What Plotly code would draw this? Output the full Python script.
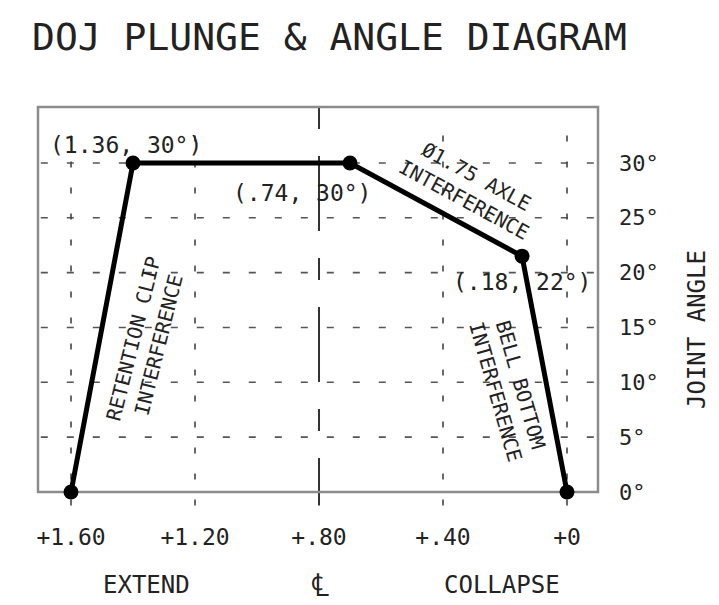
import plotly.graph_objects as go

# ---- data ----
plunge = [1.60, 1.40, 0.70, 0.145, 0.0]          # plunge (in)
joint_angle = [0, 30, 30, 21.5, 0]               # joint angle (deg)
x_tick_vals = [1.60, 1.20, 0.80, 0.40, 0.0]
x_tick_text = ["+1.60", "+1.20", "+.80", "+.40", "+0"]
y_tick_vals = [0, 5, 10, 15, 20, 25, 30]
y_tick_text = ["0°", "5°", "10°", "15°", "20°", "25°", "30°"]
grid_x = [1.60, 1.20, 0.40, 0.0]
centerline_x = 0.80
grid_y = [5, 10, 15, 20, 25, 30]
point_labels = ["(1.36, 30°)", "(.74, 30°)", "(.18, 22°)"]
zone_labels = ["RETENTION CLIP<br>INTERFERENCE", "Ø1.75 AXLE<br>INTERFERENCE",
               "BELL BOTTOM<br>INTERFERENCE"]
title_text = "DOJ PLUNGE & ANGLE DIAGRAM"
y_title = "JOINT ANGLE"
bottom_labels = ["EXTEND", "℄", "COLLAPSE"]

W, H = 719, 605
OFF = 8                      # page body margin
L0, T0, PW, PH = 38, 107, 560, 385   # plot box in screenshot pixels
L, T = L0 - OFF, T0 - OFF
R, B = W - L - PW, H - T - PH
FONT = "DejaVu Sans Mono"
INK = "#222"


def px(x):
    return (x - L0) / PW


def py(y):
    return (T0 + PH - y) / PH


fig = go.Figure()
fig.add_trace(go.Scatter(
    x=plunge, y=joint_angle, mode="lines+markers",
    line=dict(color="black", width=5),
    marker=dict(color="black", size=15),
    cliponaxis=False, hoverinfo="skip", showlegend=False))

shapes = []
for gy in grid_y:
    shapes.append(dict(type="line", xref="paper", yref="y", x0=0.005, x1=1.022,
                       y0=gy, y1=gy, layer="below",
                       line=dict(color="#555", width=1.6, dash="7px,19px")))
for gx in grid_x:
    shapes.append(dict(type="line", xref="x", yref="paper", x0=gx, x1=gx,
                       y0=-0.035, y1=0.94, layer="below",
                       line=dict(color="#444", width=1.6, dash="6px,20px")))
shapes.append(dict(type="line", xref="x", yref="paper", x0=centerline_x, x1=centerline_x,
                   y0=1.0, y1=-0.035, layer="below",
                   line=dict(color="#333", width=2, dash="22px,27px,75px,27px")))
shapes.append(dict(type="rect", xref="paper", yref="paper", x0=0, x1=1, y0=0, y1=1,
                   layer="below", line=dict(color="#8c8c8c", width=2.5)))

ann = []


def add(text, x, y, size, angle=0):
    ann.append(dict(text=text, x=px(x), y=py(y), xref="paper", yref="paper",
                    xanchor="center", yanchor="middle", showarrow=False,
                    textangle=angle, font=dict(family=FONT, size=size, color=INK)))


add(title_text, 329, 37, 38)
for t, (ax, ay) in zip(point_labels, [(126, 145), (302, 193), (522, 282)]):
    add(t, ax, ay, 23)
for t, (ax, ay), ang in zip(zone_labels, [(146, 342), (470, 188), (508, 388)], [-76, 28.5, 74]):
    add(t, ax, ay, 20, ang)
add(y_title, 697, 330, 24, -90)
for t, ax, sz in zip(bottom_labels, [146, 320, 502], [24, 32, 24]):
    add(t, ax, 585, sz)

fig.update_layout(
    width=W, height=H, margin=dict(l=L, r=R, t=T, b=B),
    paper_bgcolor="white", plot_bgcolor="white",
    shapes=shapes, annotations=ann,
    xaxis=dict(range=[1.7065, -0.1], tickvals=x_tick_vals, ticktext=x_tick_text,
               showgrid=False, zeroline=False, showline=False, ticks="",
               ticklabelstandoff=29, tickfont=dict(family=FONT, size=23, color=INK)),
    yaxis=dict(range=[0, 35.1], tickvals=y_tick_vals, ticktext=y_tick_text, side="right",
               showgrid=False, zeroline=False, showline=False, ticks="",
               ticklabelstandoff=20, tickfont=dict(family=FONT, size=22, color=INK)),
)
fig.write_html("out.html")
